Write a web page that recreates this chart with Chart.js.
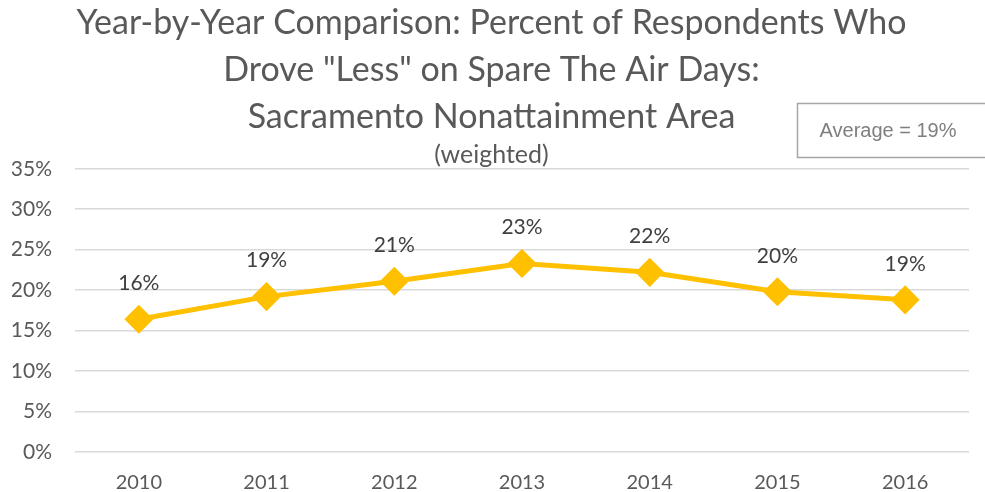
<!DOCTYPE html>
<html lang="en">
<head>
    <meta charset="UTF-8">
    <title>Spare The Air - Sacramento</title>
    <script src="https://cdn.jsdelivr.net/npm/chart.js"></script>
    <style>
        html, body { margin: 0; padding: 0; background: #fff; }
        .chart-box { width: 985px; height: 492px; position: relative; }
    </style>
</head>
<body>
    <div class="chart-box">
        <canvas id="lessChart"></canvas>
    </div>

    <script>
        // Datos
        const years = ['2010', '2011', '2012', '2013', '2014', '2015', '2016'];
        const droveLess = [16.4, 19.2, 21.1, 23.3, 22.2, 19.8, 18.8];
        const yTicks = [0, 5, 10, 15, 20, 25, 30, 35];
        const averageText = 'Average = 19%';

        // Etiquetas de valores sobre cada punto
        const pointLabels = {
            id: 'pointLabels',
            afterDatasetsDraw(chart) {
                const ctx = chart.ctx;
                const meta = chart.getDatasetMeta(0);
                ctx.save();
                ctx.font = '21px Lato, sans-serif';
                ctx.fillStyle = '#404040';
                ctx.textAlign = 'center';
                ctx.textBaseline = 'middle';
                meta.data.forEach((pt, i) => {
                    ctx.fillText(Math.round(droveLess[i]) + '%', pt.x, pt.y - 36);
                });
                ctx.restore();
            }
        };

        // Cuadro del promedio
        const averageBox = {
            id: 'averageBox',
            afterDraw(chart) {
                const ctx = chart.ctx;
                ctx.save();
                ctx.fillStyle = '#fff';
                ctx.fillRect(797.5, 103.5, 200, 54);
                ctx.strokeStyle = '#a6a6a6';
                ctx.lineWidth = 1.5;
                ctx.strokeRect(797.5, 103.5, 200, 54);
                ctx.font = '20px "Liberation Sans", Arial, sans-serif';
                ctx.fillStyle = '#7f7f7f';
                ctx.textAlign = 'center';
                ctx.textBaseline = 'middle';
                ctx.fillText(averageText, 888, 131);
                ctx.restore();
            }
        };

        new Chart(document.getElementById('lessChart').getContext('2d'), {
            type: 'line',
            data: {
                labels: years,
                datasets: [{
                    label: 'Drove less',
                    data: droveLess,
                    borderColor: '#FFC000',
                    backgroundColor: '#FFC000',
                    borderWidth: 5,
                    pointStyle: 'rectRot',
                    pointRadius: 11,
                    pointHoverRadius: 11,
                    pointBackgroundColor: '#FFC000',
                    pointBorderColor: '#FFC000',
                    tension: 0
                }]
            },
            options: {
                responsive: true,
                maintainAspectRatio: false,
                animation: false,
                layout: {
                    padding: { top: 0, left: 12, right: 14, bottom: 0 }
                },
                plugins: {
                    legend: { display: false },
                    tooltip: { enabled: false },
                    title: {
                        display: true,
                        text: [
                            'Year-by-Year Comparison: Percent of Respondents Who',
                            'Drove "Less" on Spare The Air Days:',
                            'Sacramento Nonattainment Area'
                        ],
                        color: '#595959',
                        font: { family: 'Lato, sans-serif', size: 34, weight: 'normal', lineHeight: 1.38 },
                        padding: { top: 0, bottom: 0 }
                    },
                    subtitle: {
                        display: true,
                        text: '(weighted)',
                        color: '#595959',
                        font: { family: 'Lato, sans-serif', size: 25, weight: 'normal', lineHeight: 1.0 },
                        padding: { top: 2, bottom: 1 }
                    }
                },
                scales: {
                    x: {
                        offset: true,
                        grid: { display: false },
                        border: { display: false },
                        afterFit(axis) { axis.height = 40; },
                        ticks: {
                            color: '#595959',
                            font: { family: 'Lato, sans-serif', size: 20 },
                            padding: 11
                        }
                    },
                    y: {
                        min: 0,
                        max: 35,
                        afterBuildTicks(axis) {
                            axis.ticks = yTicks.map(v => ({ value: v }));
                        },
                        afterFit(axis) { axis.width = 63; },
                        grid: { color: '#d9d9d9', lineWidth: 1.5, drawTicks: false },
                        border: { display: false },
                        ticks: {
                            color: '#595959',
                            font: { family: 'Lato, sans-serif', size: 21 },
                            padding: 23,
                            callback: v => v + '%'
                        }
                    }
                }
            },
            plugins: [pointLabels, averageBox]
        });
    </script>
</body>
</html>
